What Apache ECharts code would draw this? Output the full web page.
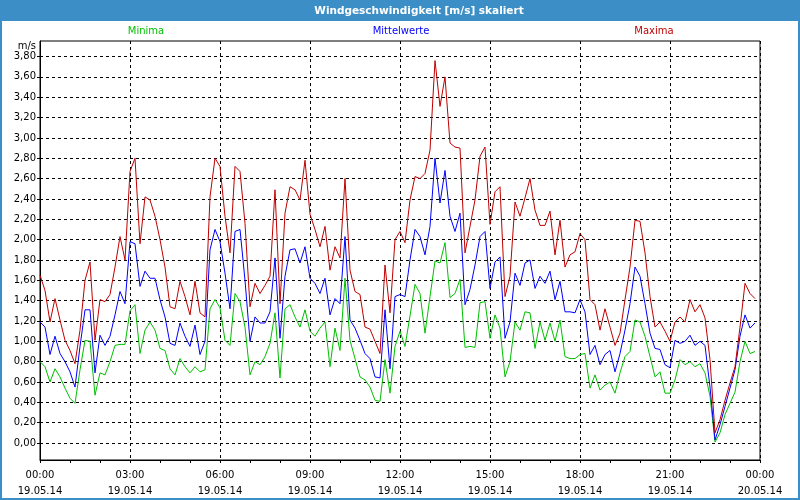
<!DOCTYPE html>
<html><head><meta charset="utf-8">
<script src="https://cdn.jsdelivr.net/npm/echarts@6/dist/echarts.min.js"></script>
<style>html,body{margin:0;padding:0;background:#fff}#c{width:800px;height:500px}</style>
</head><body><div id="c"></div>
<script>
const titleText = 'Windgeschwindigkeit [m/s] skaliert';
const seriesNames = ['Minima', 'Mittelwerte', 'Maxima'];
const yUnit = 'm/s';
const stepMinutes = 10;
const xDates = ['19.05.14', '20.05.14'];
const yTickValues = [0, 0.2, 0.4, 0.6, 0.8, 1.0, 1.2, 1.4, 1.6, 1.8, 2.0, 2.2, 2.4, 2.6, 2.8, 3.0, 3.2, 3.4, 3.6, 3.8];

const maxima = [
1.65,1.50,1.19,1.42,1.21,1.01,0.91,0.78,1.11,1.60,1.78,1.01,1.41,1.39,1.46,1.73,2.03,1.80,
2.67,2.80,1.96,2.42,2.39,2.23,2.00,1.73,1.34,1.32,1.59,1.44,1.26,1.59,1.28,1.24,2.42,2.80,
2.72,2.23,1.87,2.72,2.67,2.16,1.34,1.57,1.47,1.55,1.64,2.49,1.37,2.26,2.52,2.49,2.39,2.78,
2.25,2.10,1.93,2.13,1.70,1.93,1.82,2.60,1.70,1.49,1.46,1.14,1.12,1.00,0.88,1.75,1.28,2.00,
2.08,1.97,2.39,2.62,2.60,2.65,2.88,3.76,3.31,3.60,2.95,2.91,2.90,1.87,2.13,2.39,2.82,2.91,
2.15,2.47,2.52,1.44,1.64,2.37,2.23,2.41,2.60,2.29,2.14,2.14,2.28,1.85,2.19,1.73,1.85,1.88,
2.06,2.00,1.41,1.36,1.11,1.32,1.14,0.96,1.08,1.41,1.73,2.19,2.18,1.87,1.44,1.14,1.19,1.10,
1.00,1.19,1.24,1.19,1.41,1.29,1.36,1.23,0.82,0.10,0.23,0.42,0.59,0.75,1.14,1.57,1.47,1.42
];
const mittelwerte = [
1.19,1.14,0.87,1.05,0.88,0.80,0.70,0.55,0.95,1.31,1.31,0.69,1.06,0.96,1.05,1.26,1.49,1.37,
1.98,1.96,1.54,1.69,1.62,1.62,1.41,1.24,0.98,0.96,1.18,1.05,0.95,1.16,0.87,1.00,1.90,2.10,
1.98,1.67,1.32,2.08,2.10,1.60,1.00,1.24,1.18,1.18,1.29,1.82,1.03,1.64,1.90,1.91,1.77,1.93,
1.62,1.57,1.47,1.62,1.26,1.42,1.37,2.03,1.21,1.13,1.01,0.88,0.83,0.65,0.64,1.31,0.73,1.44,
1.46,1.44,1.80,2.10,2.03,1.85,2.13,2.80,2.36,2.68,2.23,2.08,2.26,1.36,1.51,1.75,2.03,2.08,
1.52,1.78,1.83,1.03,1.19,1.67,1.55,1.77,1.80,1.52,1.64,1.57,1.69,1.41,1.59,1.29,1.29,1.28,
1.41,1.29,0.87,0.96,0.77,0.87,0.91,0.70,0.88,1.11,1.37,1.73,1.64,1.37,1.08,0.93,0.92,0.77,
0.74,1.01,0.98,1.00,1.06,0.96,1.00,0.96,0.55,0.03,0.18,0.36,0.54,0.72,1.05,1.26,1.13,1.18
];
const minima = [
0.80,0.75,0.60,0.73,0.65,0.54,0.44,0.39,0.72,1.01,1.00,0.47,0.69,0.67,0.80,0.96,0.97,0.97,
1.30,1.36,0.88,1.11,1.19,1.11,0.93,0.91,0.73,0.67,0.83,0.75,0.69,0.75,0.70,0.72,1.32,1.41,
1.33,1.01,0.96,1.47,1.39,1.14,0.67,0.80,0.77,0.85,0.98,1.28,0.64,1.32,1.36,1.24,1.14,1.31,
1.10,1.05,1.13,1.19,0.75,1.13,0.91,1.62,1.01,0.83,0.65,0.62,0.55,0.42,0.41,0.82,0.49,0.95,
1.10,0.95,1.25,1.56,1.47,1.08,1.44,1.79,1.77,1.97,1.43,1.47,1.61,0.94,0.95,0.94,1.38,1.39,
1.03,1.26,1.13,0.65,0.80,1.19,1.11,1.29,1.28,0.93,1.19,1.01,1.18,1.00,1.21,0.85,0.83,0.83,
0.87,0.88,0.54,0.67,0.52,0.57,0.60,0.49,0.69,0.85,0.90,1.21,1.19,1.05,0.85,0.65,0.70,0.49,
0.49,0.62,0.82,0.77,0.80,0.75,0.78,0.69,0.46,0.01,0.10,0.28,0.39,0.50,0.80,1.00,0.88,0.90
];

const FONT = '"DejaVu Sans", sans-serif';
const C_MIN = '#00c000', C_MID = '#0000ff', C_MAX = '#c00000', C_BAR = '#3c8fc6';

function pairs(arr) { return arr.map((v, i) => [i * stepMinutes, v]); }
function xFmt(m) {
  const h = Math.floor(m / 60) % 24, mm = m % 60;
  const day = m >= 1440 ? xDates[1] : xDates[0];
  return String(h).padStart(2, '0') + ':' + String(mm).padStart(2, '0') + '\n' + day;
}

const chart = echarts.init(document.getElementById('c'), null, {renderer: 'canvas'});
chart.setOption({
  animation: false,
  backgroundColor: '#ffffff',
  graphic: [
    {type: 'rect', shape: {x: 0, y: 0, width: 800, height: 21}, style: {fill: C_BAR}},
    {type: 'rect', shape: {x: 1, y: 1, width: 798, height: 498}, style: {fill: null, stroke: C_BAR, lineWidth: 2}},
    {type: 'text', x: 419, y: 11, style: {text: titleText, fill: '#ffffff', fontFamily: FONT, fontSize: 10.5, fontWeight: 'bold', align: 'center', verticalAlign: 'middle', textAlign: 'center', textVerticalAlign: 'middle'}},
    {type: 'text', x: 146, y: 31, style: {text: seriesNames[0], fill: C_MIN, fontFamily: FONT, fontSize: 10, align: 'center', verticalAlign: 'middle', textAlign: 'center', textVerticalAlign: 'middle'}},
    {type: 'text', x: 401, y: 31, style: {text: seriesNames[1], fill: C_MID, fontFamily: FONT, fontSize: 10, align: 'center', verticalAlign: 'middle', textAlign: 'center', textVerticalAlign: 'middle'}},
    {type: 'text', x: 654, y: 31, style: {text: seriesNames[2], fill: C_MAX, fontFamily: FONT, fontSize: 10, align: 'center', verticalAlign: 'middle', textAlign: 'center', textVerticalAlign: 'middle'}},
    {type: 'text', x: 36, y: 46, style: {text: yUnit, fill: '#000', fontFamily: FONT, fontSize: 10, align: 'right', verticalAlign: 'middle', textAlign: 'right', textVerticalAlign: 'middle'}}
  ],
  grid: {left: 40, right: 40, top: 41, bottom: 40, show: true, borderColor: '#000', borderWidth: 1, backgroundColor: 'transparent', outerBoundsMode: 'none', containLabel: false},
  xAxis: {
    type: 'value', min: 0, max: 1440, interval: 180,
    axisLine: {show: true, onZero: false, lineStyle: {color: '#000', width: 1}},
    axisTick: {show: true, inside: false, length: 3, lineStyle: {color: '#000'}},
    minorTick: {show: true, splitNumber: 3, length: 3, lineStyle: {color: '#000'}},
    splitLine: {show: true, lineStyle: {color: '#000', width: 1, type: [3, 3]}},
    minorSplitLine: {show: false},
    axisLabel: {formatter: xFmt, color: '#000', fontFamily: FONT, fontSize: 10, lineHeight: 16, margin: 7, showMinLabel: true, showMaxLabel: true, hideOverlap: false}
  },
  yAxis: {
    type: 'value', min: -0.167, max: 3.953,
    axisLine: {show: true, onZero: false, lineStyle: {color: '#000', width: 1}},
    axisTick: {show: true, inside: false, length: 3, customValues: yTickValues, lineStyle: {color: '#000'}},
    splitLine: {show: true, lineStyle: {color: '#000', width: 1, type: [3, 3]}},
    axisLabel: {customValues: yTickValues, formatter: v => v.toFixed(2).replace('.', ','), color: '#000', fontFamily: FONT, fontSize: 10, margin: 4}
  },
  series: [
    {name: seriesNames[0], type: 'line', data: pairs(minima), symbol: 'none', showSymbol: false, silent: true, lineStyle: {width: 1, color: C_MIN}, itemStyle: {color: C_MIN}, z: 3},
    {name: seriesNames[1], type: 'line', data: pairs(mittelwerte), symbol: 'none', showSymbol: false, silent: true, lineStyle: {width: 1, color: C_MID}, itemStyle: {color: C_MID}, z: 4},
    {name: seriesNames[2], type: 'line', data: pairs(maxima), symbol: 'none', showSymbol: false, silent: true, lineStyle: {width: 1, color: C_MAX}, itemStyle: {color: C_MAX}, z: 5}
  ]
});
</script>
</body></html>
